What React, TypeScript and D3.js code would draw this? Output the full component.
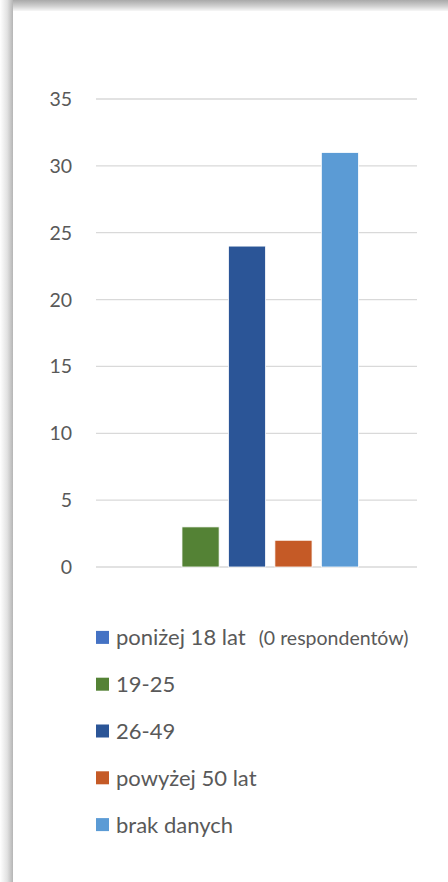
import React from "react";
import * as d3 from "d3";

const categories = ["poniżej 18 lat", "19-25", "26-49", "powyżej 50 lat", "brak danych"];
const values = [0, 3, 24, 2, 31];
const colors = ["#4472C4", "#548235", "#2B5597", "#C55A26", "#5B9BD5"];
const legendNotes = ["(0 respondentów)", "", "", "", ""];
const yTicks = [0, 5, 10, 15, 20, 25, 30, 35];

const W = 448;
const H = 882;

export default function App() {
  const y = d3.scaleLinear().domain([0, 35]).range([567, 99]);
  const x = d3.scaleBand<string>().domain(categories).range([135.5, 358.5]).paddingInner(0.2).paddingOuter(0);
  const legendY = d3.scaleBand<string>().domain(categories).range([614, 848]);
  const font = "Lato, 'Open Sans', sans-serif";
  const textColor = "#595959";

  return (
    <svg width={W} height={H} style={{ position: "absolute", left: 0, top: 0, display: "block", background: "#fff" }}>
      <defs>
        <linearGradient id="shTop" x1="0" y1="0" x2="0" y2="1">
          <stop offset="0" stopColor="#a9a9a9" />
          <stop offset="0.5" stopColor="#cfcfcf" />
          <stop offset="1" stopColor="#ffffff" />
        </linearGradient>
        <linearGradient id="shLeft" x1="0" y1="0" x2="1" y2="0">
          <stop offset="0" stopColor="#ffffff" />
          <stop offset="0.55" stopColor="#e2e2e2" />
          <stop offset="1" stopColor="#b5b5b5" />
        </linearGradient>
      </defs>
      <rect x={0} y={0} width={W} height={H} fill="#fff" />
      <rect x={0} y={0} width={W} height={12} fill="url(#shTop)" />
      <rect x={0} y={0} width={13} height={H} fill="url(#shLeft)" />
      <rect x={13} y={11} width={W - 13} height={H - 11} fill="#fff" />

      {yTicks.map((t) => (
        <g key={t}>
          <line x1={96} x2={417} y1={y(t)} y2={y(t)} stroke="#d9d9d9" strokeWidth={1.3} />
          <text x={72} y={y(t)} dy="0.36em" textAnchor="end" fontFamily={font} fontSize={19.5} fill={textColor}>
            {t}
          </text>
        </g>
      ))}

      {categories.map((c, i) => (
        <rect
          key={c}
          x={x(c)}
          y={y(values[i])}
          width={x.bandwidth()}
          height={y(0) - y(values[i])}
          fill={colors[i]}
          stroke="#ffffff"
          strokeWidth={values[i] > 0 ? 0.8 : 0}
        />
      ))}

      {categories.map((c, i) => {
        const cy = (legendY(c) as number) + legendY.bandwidth() / 2;
        return (
          <g key={"lg" + c}>
            <rect x={96} y={cy - 6.5} width={13} height={13} fill={colors[i]} />
            <text x={116} y={cy} dy="0.36em" fontFamily={font} fontSize={22} fill={textColor}>
              {c}
              {legendNotes[i] ? (
                <tspan fontSize={19.5} dx={13}>
                  {legendNotes[i]}
                </tspan>
              ) : null}
            </text>
          </g>
        );
      })}
    </svg>
  );
}
